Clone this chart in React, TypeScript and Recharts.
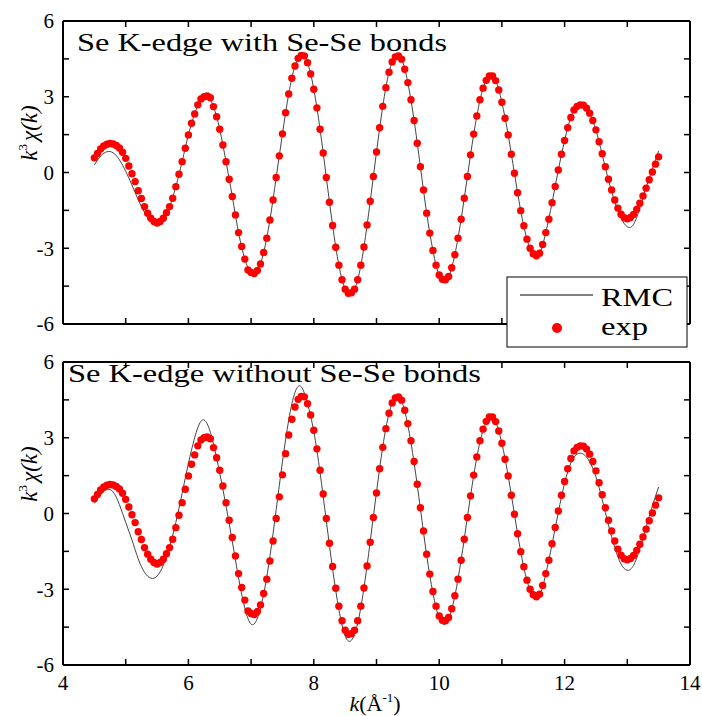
// EXAFS k^3 chi(k) fits — two stacked panels, RMC line vs experimental dots
import { ComposedChart, Line, Scatter, XAxis, YAxis } from 'recharts'

const K_START = 4.5
const EXP_STEP = 0.05
const RMC_STEP = 0.1

// experimental k^3 chi(k), one value per 0.05 Å^-1 from 4.5 to 13.5
const expValues = [
  0.58, 0.75, 0.93, 1.05, 1.12, 1.15, 1.13, 1.07, 0.97, 0.80,
  0.56, 0.26, -0.05, -0.36, -0.72, -1.03, -1.35, -1.61, -1.81, -1.94,
  -2.00, -1.94, -1.81, -1.59, -1.35, -1.02, -0.56, -0.07, 0.43, 0.96,
  1.49, 1.95, 2.32, 2.68, 2.91, 3.00, 3.03, 2.96, 2.61, 2.21,
  1.71, 1.09, 0.43, -0.27, -0.95, -1.68, -2.38, -2.93, -3.43, -3.86,
  -3.96, -4.00, -3.88, -3.62, -3.17, -2.60, -1.88, -1.09, -0.20, 0.66,
  1.53, 2.37, 3.11, 3.73, 4.22, 4.52, 4.64, 4.62, 4.35, 3.90,
  3.30, 2.56, 1.71, 0.77, -0.20, -1.18, -2.10, -2.96, -3.67, -4.25,
  -4.62, -4.78, -4.76, -4.62, -4.25, -3.67, -2.95, -2.08, -1.14, -0.16,
  0.81, 1.77, 2.62, 3.36, 3.97, 4.38, 4.58, 4.62, 4.49, 4.09,
  3.56, 2.88, 2.06, 1.16, 0.23, -0.69, -1.61, -2.40, -3.09, -3.67,
  -4.06, -4.23, -4.25, -4.12, -3.77, -3.26, -2.60, -1.85, -1.02, -0.16,
  0.70, 1.52, 2.24, 2.88, 3.34, 3.65, 3.82, 3.82, 3.64, 3.27,
  2.78, 2.15, 1.49, 0.72, -0.03, -0.80, -1.51, -2.11, -2.64, -3.00,
  -3.22, -3.30, -3.20, -2.85, -2.38, -1.85, -1.20, -0.55, 0.10, 0.72,
  1.27, 1.77, 2.18, 2.48, 2.62, 2.68, 2.67, 2.55, 2.35, 2.06,
  1.69, 1.22, 0.74, 0.23, -0.27, -0.69, -1.09, -1.41, -1.65, -1.79,
  -1.83, -1.78, -1.66, -1.46, -1.22, -0.93, -0.62, -0.29, 0.02, 0.33,
  0.62,
]

// RMC fit with Se-Se bonds, every 0.1 Å^-1
const rmcWithValues = [
  0.30, 0.65, 0.82, 0.78, 0.50, 0.05, -0.50, -1.08, -1.58, -1.92,
  -1.98, -1.80, -1.35, -0.56, 0.43, 1.49, 2.32, 2.91, 3.03, 2.61,
  1.71, 0.43, -0.95, -2.38, -3.43, -3.96, -3.88, -3.17, -1.88, -0.20,
  1.53, 3.11, 4.22, 4.64, 4.35, 3.30, 1.71, -0.20, -2.10, -3.67,
  -4.62, -4.80, -4.25, -2.95, -1.14, 0.81, 2.62, 3.97, 4.58, 4.49,
  3.56, 2.06, 0.23, -1.61, -3.09, -4.10, -4.35, -3.77, -2.60, -1.02,
  0.70, 2.24, 3.34, 3.82, 3.64, 2.78, 1.49, -0.03, -1.51, -2.64,
  -3.25, -3.22, -2.38, -1.20, 0.10, 1.27, 2.18, 2.62, 2.65, 2.33,
  1.67, 0.70, -0.30, -1.15, -1.80, -2.15, -2.05, -1.40, -0.60, 0.15,
  0.85,
]

// RMC fit without Se-Se bonds, every 0.1 Å^-1
const rmcWithoutValues = [
  0.40, 0.75, 0.95, 0.85, 0.35, -0.35, -1.05, -1.80, -2.33, -2.56,
  -2.48, -2.05, -1.31, -0.35, 0.80, 1.98, 3.00, 3.65, 3.55, 2.75,
  1.60, 0.30, -1.10, -2.55, -3.75, -4.38, -4.15, -3.20, -1.70, 0.15,
  2.05, 3.70, 4.80, 5.02, 4.35, 3.25, 1.62, -0.30, -2.20, -3.80,
  -4.85, -5.02, -4.35, -2.95, -1.10, 0.85, 2.65, 3.97, 4.60, 4.45,
  3.50, 2.00, 0.20, -1.65, -3.15, -4.15, -4.38, -3.80, -2.60, -1.00,
  0.70, 2.22, 3.30, 3.78, 3.62, 2.78, 1.49, -0.03, -1.51, -2.66,
  -3.28, -3.25, -2.40, -1.22, 0.05, 1.20, 2.00, 2.35, 2.35, 2.05,
  1.45, 0.55, -0.45, -1.35, -2.00, -2.25, -2.05, -1.40, -0.55, 0.30,
  1.05,
]

const xTicks = [4, 5, 6, 7, 8, 9, 10, 11, 12, 13, 14]
const xLabelled = [4, 6, 8, 10, 12, 14]
const yTicks = [-6, -4.5, -3, -1.5, 0, 1.5, 3, 4.5, 6]
const yLabelled = [-6, -3, 0, 3, 6]

const toPoints = (vals: number[], step: number) =>
  vals.map((v, i) => ({ k: +(K_START + i * step).toFixed(2), v }))

const expData = toPoints(expValues, EXP_STEP)
const rmcWithData = toPoints(rmcWithValues, RMC_STEP)
const rmcWithoutData = toPoints(rmcWithoutValues, RMC_STEP)

const SERIF = '"Liberation Serif", "Times New Roman", serif'
const GAP = 9
const LEN = 6
const axisStyle = { stroke: '#000', strokeWidth: 2 }
const tickText = { fontFamily: SERIF, fontSize: 21, fill: '#000' }

type Side = 'left' | 'right' | 'top' | 'bottom'

// inward tick marks, labels (if any) outside the frame
function makeTick(side: Side, labels: number[]) {
  return function Tick(props: any) {
    const { x, y, payload } = props
    const value = payload.value
    const show = labels.includes(value)
    if (side === 'left') {
      const ax = x + GAP
      return (
        <g>
          <line x1={ax} x2={ax + LEN} y1={y} y2={y} stroke="#000" strokeWidth={1.5} />
          {show && <text x={x} y={y} dy="0.35em" textAnchor="end" style={tickText}>{value}</text>}
        </g>
      )
    }
    if (side === 'right') {
      const ax = x - GAP
      return <line x1={ax} x2={ax - LEN} y1={y} y2={y} stroke="#000" strokeWidth={1.5} />
    }
    if (side === 'top') {
      const ay = y + GAP
      return <line x1={x} x2={x} y1={ay} y2={ay + LEN} stroke="#000" strokeWidth={1.5} />
    }
    const ay = y - GAP
    return (
      <g>
        <line x1={x} x2={x} y1={ay} y2={ay - LEN} stroke="#000" strokeWidth={1.5} />
        {show && <text x={x} y={y + 1} dy="0.71em" textAnchor="middle" style={tickText}>{value}</text>}
      </g>
    )
  }
}

const leftTick = makeTick('left', yLabelled)
const rightTick = makeTick('right', [])
const topTick = makeTick('top', [])
const bottomTickBare = makeTick('bottom', [])
const bottomTickLabelled = makeTick('bottom', xLabelled)

function Panel({ rmc, labelled, height, margin }: {
  rmc: { k: number; v: number }[]
  labelled: boolean
  height: number
  margin: { top: number; right: number; bottom: number; left: number }
}) {
  const axisCommon = { tickSize: 0, tickMargin: GAP, tickLine: false, axisLine: axisStyle, interval: 0 as const }
  return (
    <ComposedChart width={702} height={height} margin={margin}>
      <XAxis xAxisId="bottom" type="number" dataKey="k" domain={[4, 14]} ticks={xTicks} height={1}
        orientation="bottom" tick={labelled ? bottomTickLabelled : bottomTickBare} {...axisCommon} />
      <XAxis xAxisId="top" type="number" dataKey="k" domain={[4, 14]} ticks={xTicks} height={1}
        orientation="top" tick={topTick} {...axisCommon} />
      <YAxis yAxisId="left" type="number" dataKey="v" domain={[-6, 6]} ticks={yTicks} width={1}
        orientation="left" tick={leftTick} {...axisCommon} />
      <YAxis yAxisId="right" type="number" dataKey="v" domain={[-6, 6]} ticks={yTicks} width={1}
        orientation="right" tick={rightTick} {...axisCommon} />
      <Line xAxisId="top" yAxisId="right" data={rmc} dataKey="v" type="natural"
        stroke="#444" strokeWidth={1} dot={false} activeDot={false} isAnimationActive={false} />
      <Scatter xAxisId="bottom" yAxisId="left" data={expData} isAnimationActive={false}
        shape={(p: any) => <circle cx={p.cx} cy={p.cy} r={3.7} fill="#ff0000" />} />
    </ComposedChart>
  )
}

function YLabel({ cy }: { cy: number }) {
  return (
    <text transform={`translate(37,${cy}) rotate(-90)`} textAnchor="middle"
      style={{ fontFamily: SERIF, fontSize: 23, fill: '#000' }}>
      <tspan fontStyle="italic">k</tspan>
      <tspan fontSize={13} dy={-10}>3</tspan>
      <tspan dy={10} dx={3} fontStyle="italic">χ(k)</tspan>
    </text>
  )
}

export default function App() {
  return (
    <div style={{ position: 'absolute', left: 0, top: 0, width: 702, height: 716, background: '#fff' }}>
      <div style={{ position: 'absolute', left: 0, top: 0 }}>
        <Panel rmc={rmcWithData} labelled={false} height={345}
          margin={{ top: 20, right: 11, bottom: 20, left: 62 }} />
      </div>
      <div style={{ position: 'absolute', left: 0, top: 341 }}>
        <Panel rmc={rmcWithoutData} labelled height={375}
          margin={{ top: 20, right: 11, bottom: 50, left: 62 }} />
      </div>
      <svg width={702} height={716} style={{ position: 'absolute', left: 0, top: 0, pointerEvents: 'none' }}>
        <text x={77} y={51} textLength={370} lengthAdjust="spacingAndGlyphs"
          style={{ fontFamily: SERIF, fontSize: 26, fill: '#000' }}>Se K-edge with Se-Se bonds</text>
        <text x={68} y={382} textLength={413} lengthAdjust="spacingAndGlyphs"
          style={{ fontFamily: SERIF, fontSize: 26, fill: '#000' }}>Se K-edge without Se-Se bonds</text>
        <YLabel cy={133} />
        <YLabel cy={474} />
        <text x={375} y={711} textAnchor="middle" style={{ fontFamily: SERIF, fontSize: 22, fill: '#000' }}>
          <tspan fontStyle="italic">k</tspan>(Å<tspan fontSize={13} dy={-9}>-1</tspan><tspan dy={9}>)</tspan>
        </text>
        {/* legend */}
        <rect x={507} y={277} width={180} height={70} fill="#fff" stroke="#000" strokeWidth={1} />
        <line x1={520} x2={593} y1={295} y2={295} stroke="#000" strokeWidth={1} />
        <text x={601} y={306} textLength={72} lengthAdjust="spacingAndGlyphs"
          style={{ fontFamily: SERIF, fontSize: 26, fill: '#000' }}>RMC</text>
        <circle cx={557} cy={328} r={5} fill="#ff0000" />
        <text x={601} y={335} textLength={47} lengthAdjust="spacingAndGlyphs"
          style={{ fontFamily: SERIF, fontSize: 26, fill: '#000' }}>exp</text>
      </svg>
    </div>
  )
}
